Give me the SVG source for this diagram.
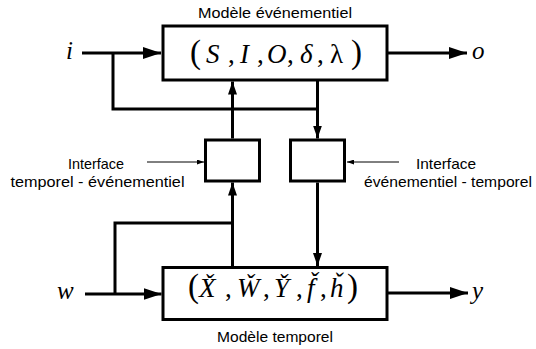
<svg xmlns="http://www.w3.org/2000/svg" width="536" height="349" viewBox="0 0 536 349">
<style>
.box{fill:#fff;stroke:#000;stroke-width:3}
.ln{fill:none;stroke:#000;stroke-width:3}
.thin{fill:none;stroke:#000;stroke-width:1}
.lbl{font-family:"Liberation Sans",Arial,sans-serif;font-size:15px;fill:#000;text-anchor:middle}
.math{font-family:"Liberation Serif","Times New Roman",serif;font-size:27px;fill:#000;font-style:italic}
.up{font-style:normal}
.var{font-family:"Liberation Serif","Times New Roman",serif;font-size:25px;font-style:italic;fill:#000}
</style>
<defs>
<marker id="aBig" viewBox="0 0 18 12" refX="18" refY="6" markerWidth="18" markerHeight="12" markerUnits="userSpaceOnUse" orient="auto"><path d="M0,0 L18,6 L0,12 z" fill="#000"/></marker>
<marker id="aMed" viewBox="0 0 13 9" refX="13" refY="4.5" markerWidth="13" markerHeight="9" markerUnits="userSpaceOnUse" orient="auto"><path d="M0,0 L13,4.5 L0,9 z" fill="#000"/></marker>
<marker id="aSm" viewBox="0 0 7 5" refX="7" refY="2.5" markerWidth="7" markerHeight="5" markerUnits="userSpaceOnUse" orient="auto"><path d="M0,0 L7,2.5 L0,5 z" fill="#000"/></marker>
</defs>
<g id="connectors">
<path class="ln" d="M82,53 H161" marker-end="url(#aBig)"/>
<path class="ln" d="M113,53 V109 H317.5"/>
<path class="ln" d="M317.5,81 V138.5" marker-end="url(#aMed)"/>
<path class="ln" d="M232.5,138.5 V81.5" marker-end="url(#aMed)"/>
<path class="ln" d="M388,53 H467" marker-end="url(#aBig)"/>
<path class="ln" d="M85,294 H161.5" marker-end="url(#aBig)"/>
<path class="ln" d="M115,294 V223 H232.5"/>
<path class="ln" d="M232.5,266 V182.5" marker-end="url(#aMed)"/>
<path class="ln" d="M317.5,182.5 V266" marker-end="url(#aMed)"/>
<path class="ln" d="M388,293 H468" marker-end="url(#aBig)"/>
<path class="thin" d="M147,162 H204" marker-end="url(#aSm)"/>
<path class="thin" d="M399,162 H347" marker-end="url(#aSm)"/>
</g>
<g id="modele-evenementiel">
<rect class="box" x="163" y="26" width="224" height="54"/>
<text class="lbl" x="275" y="18" textLength="154" lengthAdjust="spacingAndGlyphs">Modèle événementiel</text>
<text class="math" y="63"><tspan class="up" x="190" font-size="33">(</tspan><tspan x="206">S</tspan><tspan class="up" x="228">,</tspan><tspan x="240">I</tspan><tspan class="up" x="257">,</tspan><tspan x="267">O</tspan><tspan class="up" x="287">,</tspan><tspan x="300">δ</tspan><tspan class="up" x="317">,</tspan><tspan class="up" x="330">λ</tspan><tspan class="up" x="351" font-size="33">)</tspan></text>
</g>
<g id="interface-te">
<rect class="box" x="205.5" y="140" width="54" height="41"/>
</g>
<g id="interface-et">
<rect class="box" x="290.5" y="140" width="54" height="41"/>
</g>
<g id="label-te">
<text class="lbl" x="96" y="169" textLength="56" lengthAdjust="spacingAndGlyphs">Interface</text>
<text class="lbl" x="97.5" y="187" textLength="174" lengthAdjust="spacingAndGlyphs">temporel - événementiel</text>
</g>
<g id="label-et">
<text class="lbl" x="446" y="169" textLength="60" lengthAdjust="spacingAndGlyphs">Interface</text>
<text class="lbl" x="448" y="187" textLength="168" lengthAdjust="spacingAndGlyphs">événementiel - temporel</text>
</g>
<g id="modele-temporel">
<rect class="box" x="163" y="267.5" width="224" height="52"/>
<text class="lbl" x="275" y="342" textLength="116" lengthAdjust="spacingAndGlyphs">Modèle temporel</text>
<text class="math" y="297"><tspan class="up" x="188" font-size="33">(</tspan><tspan x="199">X̌</tspan><tspan class="up" x="225">,</tspan><tspan x="237">W̌</tspan><tspan class="up" x="263">,</tspan><tspan x="274">Y̌</tspan><tspan class="up" x="296">,</tspan><tspan x="307">f̌</tspan><tspan class="up" x="320">,</tspan><tspan x="330">ȟ</tspan><tspan class="up" x="347" font-size="33">)</tspan></text>
</g>
<g id="io-labels">
<text class="var" x="66" y="59">i</text>
<text class="var" x="472" y="59">o</text>
<text class="var" x="57" y="299">w</text>
<text class="var" x="472" y="299">y</text>
</g>
</svg>
